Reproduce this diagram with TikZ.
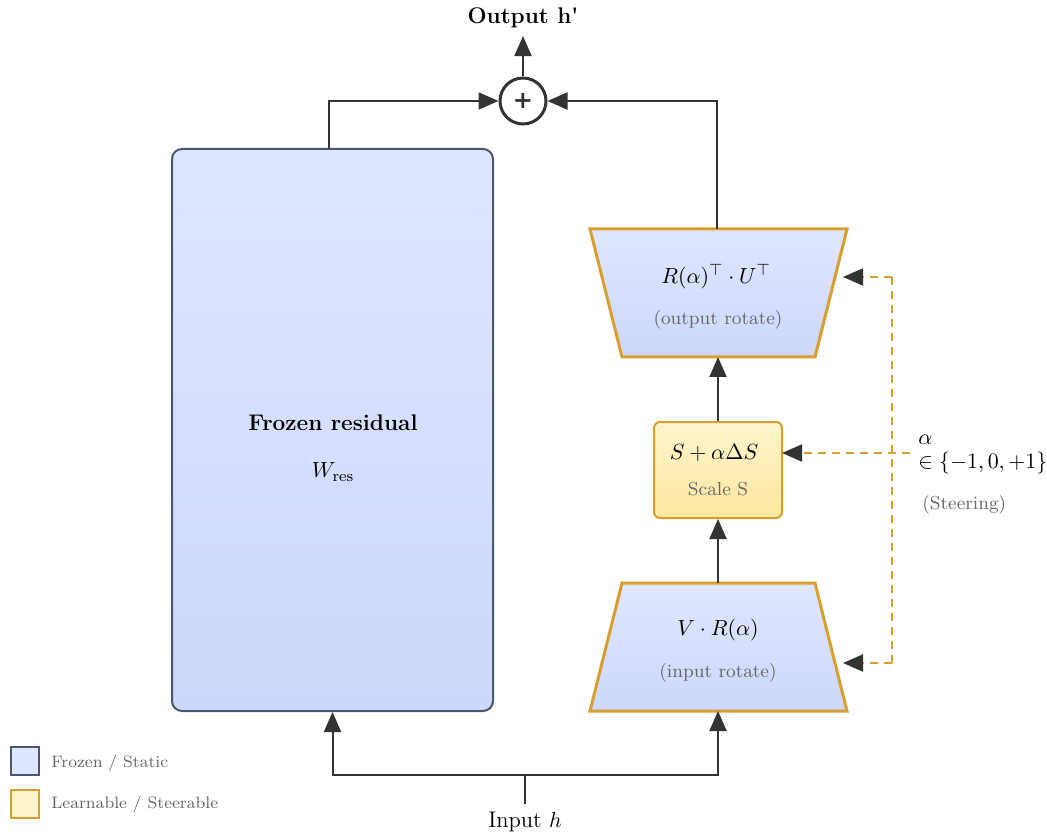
\documentclass[tikz,border=0pt]{standalone}
\usepackage{fontspec}
\newfontfamily\plusfont{DejaVu Sans}
\usetikzlibrary{arrows.meta}
\definecolor{bluetop}{HTML}{DFE6FF}
\definecolor{bluebot}{HTML}{CCD7FB}
\definecolor{frzborder}{HTML}{4B5670}
\definecolor{orng}{HTML}{D89E2E}
\definecolor{yeltop}{HTML}{FFF4CC}
\definecolor{yelbot}{HTML}{FFE7A0}
\definecolor{linec}{HTML}{333333}
\definecolor{graytxt}{HTML}{666666}
\begin{document}
\fontsize{11.3}{13.6}\selectfont
\begin{tikzpicture}[x=0.5pt,y=-0.5pt,
  conn/.style={draw=linec, line width=1pt, -{Triangle[length=10pt,width=8.5pt,color=linec]}},
  plainconn/.style={draw=linec, line width=1pt},
  steer/.style={draw=orng, line width=1pt, dash pattern=on 4pt off 3pt},
  steerarrow/.style={steer, -{Triangle[length=10pt,width=8.5pt,color=linec]}},
  frozenbox/.style={draw=frzborder, line width=1pt, top color=bluetop, bottom color=bluebot, rounded corners=5pt},
  learnshape/.style={draw=orng, line width=1.5pt, top color=bluetop, bottom color=bluebot},
  scalebox/.style={draw=orng, line width=1pt, top color=yeltop, bottom color=yelbot, rounded corners=3pt},
  subtxt/.style={font=\fontsize{9.4}{11}\selectfont, text=graytxt},
  legtxt/.style={font=\fontsize{8.3}{10}\selectfont, text=graytxt, anchor=west, inner sep=0pt},
]
\useasboundingbox (0,0) rectangle (1047,833);

% Frozen residual
\node[frozenbox, minimum width=160.5pt, minimum height=281pt, inner sep=0pt] (frozen) at (332.5,430) {};
\node[font=\bfseries] (frozentitle) at (333,423) {Frozen residual};
\node (frozenw) at (333,472) {$W_{\mathrm{res}}$};
\coordinate (ftop) at (329,149);

% Sum node
\node[circle, draw=linec, line width=1.5pt, fill=white, minimum size=23pt, inner sep=0pt, text=linec, font=\plusfont\bfseries\large] (plus) at (523,101) {+};
\node[font=\bfseries] (out) at (523,18) {Output h\textquotesingle};
\draw[conn] (plus.north) -- (out.south);

% Output rotate trapezoid
\draw[learnshape] (590,229) -- (847,229) -- (815,357) -- (622,357) -- cycle;
\coordinate (otop) at (717,229);
\coordinate (obot) at (718,357);
\coordinate (oright) at (843,277);
\node (omath) at (716,277) {$R(\alpha)^{\top}\cdot U^{\top}$};
\node[subtxt] (osub) at (718,320) {(output rotate)};

% Scale box
\node[scalebox, minimum width=64pt, minimum height=48pt, inner sep=0pt] (scale) at (718,470) {};
\node (smath) at (714,453) {$S+\alpha\Delta S$};
\node[subtxt] (ssub) at (718,489) {Scale S};
\coordinate (sright) at (782,453);

% Input rotate trapezoid
\draw[learnshape] (622,583) -- (815,583) -- (847,711) -- (590,711) -- cycle;
\coordinate (itop) at (718,583);
\coordinate (ibot) at (718,711);
\coordinate (iright) at (843,663);
\node (imath) at (718,630) {$V\cdot R(\alpha)$};
\node[subtxt] (isub) at (718,673) {(input rotate)};

% Main flow connectors
\draw[conn] (ftop) |- (plus.west);
\draw[conn] (otop) |- (plus.east);
\draw[conn] (scale.north) -- (obot);
\draw[conn] (itop) -- (scale.south);

% Input
\node (inp) at (525,822) {Input $h$};
\coordinate (split) at (525,775);
\draw[plainconn] (inp.north) -- (split);
\draw[conn] (split) -| (frozen.south);
\draw[conn] (split) -| (ibot);

% Steering
\coordinate (dtop) at (892,277);
\coordinate (dbot) at (892,663);
\coordinate (dmid) at (910,453);
\draw[steer] (dtop) -- (dbot);
\draw[steerarrow] (dtop) -- (oright);
\draw[steerarrow] (dbot) -- (iright);
\draw[steerarrow] (dmid) -- (sright);
\node[anchor=west, align=left, inner sep=0pt, font=\fontsize{11.1}{12}\selectfont] (alphalbl) at (918,455) {$\alpha$\\$\in\{-1,0,+1\}$};
\node[subtxt, anchor=west, inner sep=0pt] (steerlbl) at (922,505) {(Steering)};

% Legend
\draw[draw=frzborder, line width=1pt, top color=bluetop, bottom color=bluetop!90!bluebot] (11,747) rectangle (39,775);
\node[legtxt] (leg1) at (51,763) {Frozen / Static};
\draw[draw=orng, line width=1pt, top color=yeltop, bottom color=yeltop] (11,790) rectangle (39,818);
\node[legtxt] (leg2) at (51,804) {Learnable / Steerable};
\end{tikzpicture}
\end{document}
